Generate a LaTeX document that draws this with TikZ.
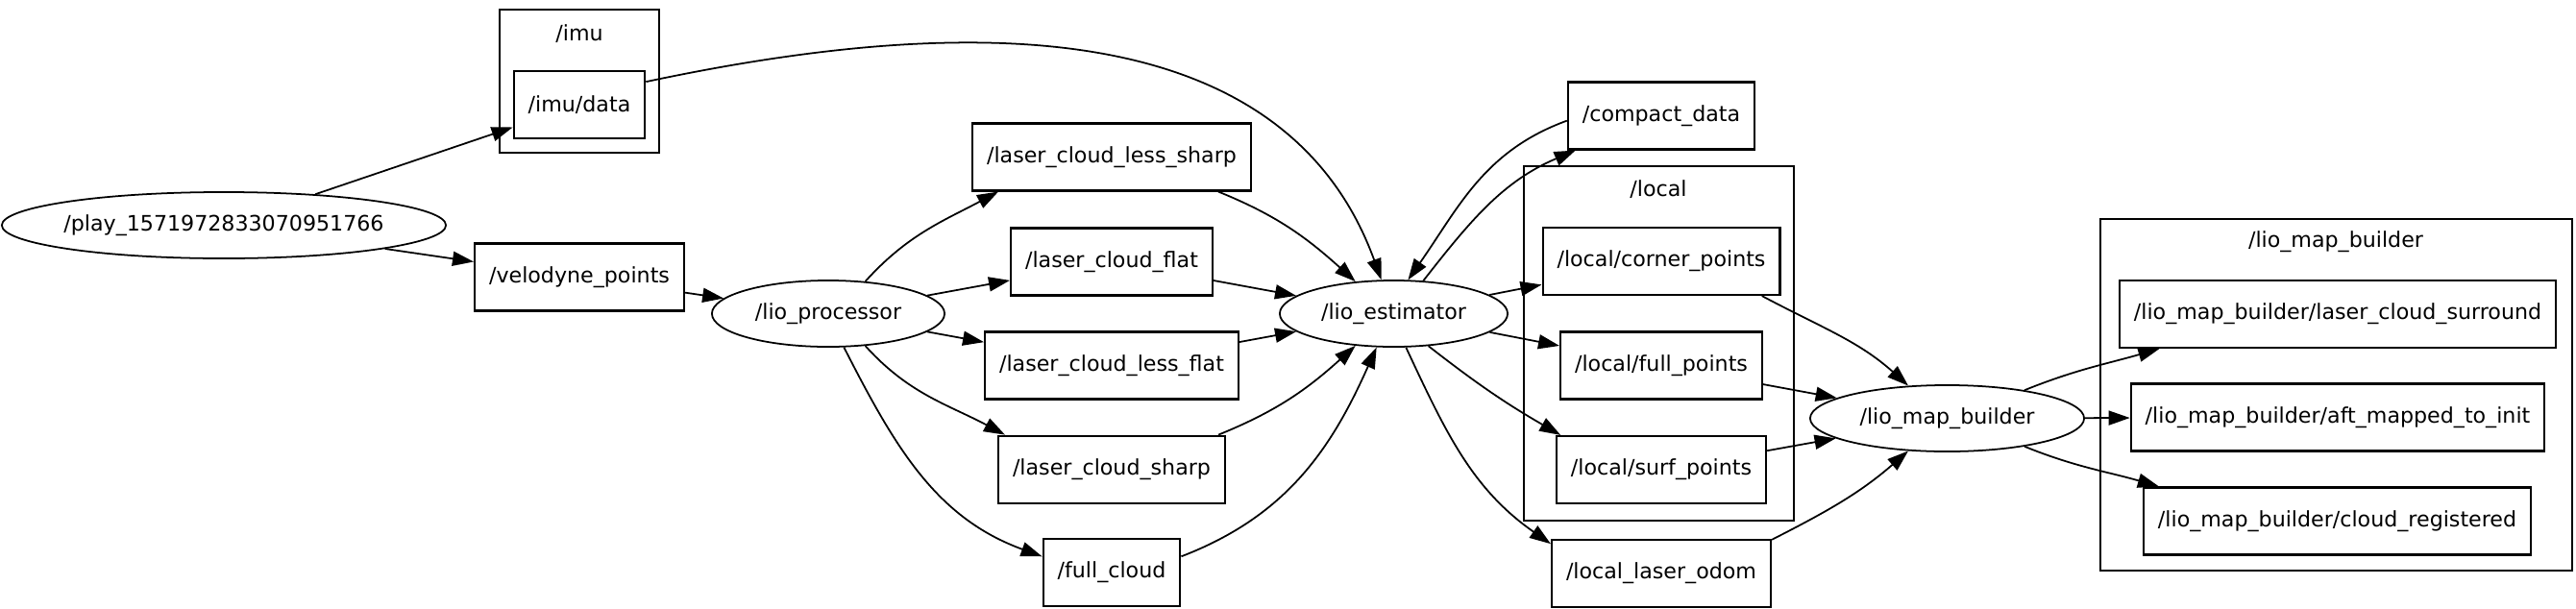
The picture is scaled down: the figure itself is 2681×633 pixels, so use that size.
\documentclass[tikz,border=0pt]{standalone}
\usepackage{fontspec}
\setmainfont{DejaVu Sans}
\usetikzlibrary{arrows.meta,shapes.geometric}

\begin{document}
\begin{tikzpicture}[x=0.01cm,y=0.01cm,
  >={Triangle[length=2.2mm,width=1.5mm]},
  every node/.style={font=\fontsize{6.3}{7.5}\selectfont},
  topic/.style={draw,line width=0.6pt,rectangle,minimum height=0.7cm,inner xsep=0.15cm},
  proc/.style={draw,line width=0.5pt,ellipse,minimum height=0.69cm,inner sep=0pt},
  group/.style={draw,line width=0.6pt},
  edge/.style={->,line width=0.5pt}]
\useasboundingbox (0,0) rectangle (2681,-633);

% namespaces
\draw[group] (520,-10) rectangle (686,-159);
\node (imulbl) at (603,-35) {/imu};
\draw[group] (1586,-173) rectangle (1867,-542);
\node (locallbl) at (1726,-197) {/local};
\draw[group] (2186,-228) rectangle (2677,-594);
\node (mblbl) at (2431,-252) {/lio\_map\_builder};

% nodes
\node[proc,minimum width=4.62cm] (play) at (233,-234.5) {\makebox[0pt]{/play\_1571972833070951766}};
\node[proc,minimum width=2.42cm] (proc) at (862,-326.5) {\makebox[0pt]{/lio\_processor}};
\node[proc,minimum width=2.37cm] (est) at (1450.5,-326.5) {\makebox[0pt]{/lio\_estimator}};
\node[proc,minimum width=2.85cm] (mb) at (2026.5,-435.5) {\makebox[0pt]{/lio\_map\_builder}};

% topics
\node[topic] (imudata) at (603,-109) {/imu/data};
\node[topic] (velo) at (603,-288.5) {/velodyne\_points};
\node[topic] (lesssharp) at (1157,-163.5) {/laser\_cloud\_less\_sharp};
\node[topic] (flat) at (1157,-272.5) {/laser\_cloud\_flat};
\node[topic] (lessflat) at (1157,-380.5) {/laser\_cloud\_less\_flat};
\node[topic] (sharp) at (1157,-488.7) {/laser\_cloud\_sharp};
\node[topic] (fullcloud) at (1157,-596) {/full\_cloud};
\node[topic] (compact) at (1729,-120.5) {/compact\_data};
\node[topic] (corner) at (1729,-272) {/local/corner\_points};
\node[topic] (fullpts) at (1729,-380.5) {/local/full\_points};
\node[topic] (surf) at (1729,-489) {/local/surf\_points};
\node[topic] (odom) at (1729,-597) {/local\_laser\_odom};
\node[topic] (surround) at (2433,-327) {/lio\_map\_builder/laser\_cloud\_surround};
\node[topic] (aft) at (2433,-434.5) {/lio\_map\_builder/aft\_mapped\_to\_init};
\node[topic] (cloudreg) at (2432.5,-542.5) {/lio\_map\_builder/cloud\_registered};

% connections
\draw[edge] (play) -- (imudata);
\draw[edge] (play) -- (velo);
\draw[edge] (velo) -- (proc);
\draw[edge] (imudata.19) to[out=12,in=110] (est.110);
\draw[edge] (proc.41) to[out=48,in=208] (lesssharp.197);
\draw[edge] (proc) -- (flat);
\draw[edge] (proc) -- (lessflat);
\draw[edge] (proc.-41) to[out=-48,in=152] (sharp.162);
\draw[edge] (proc.-65) to[out=-63,in=160] (fullcloud.167);
\draw[edge] (lesssharp.-18) to[out=-22,in=138] (est.140);
\draw[edge] (flat) -- (est);
\draw[edge] (lessflat) -- (est);
\draw[edge] (sharp.18) to[out=22,in=222] (est.220);
\draw[edge] (fullcloud.13) to[out=21,in=246] (est.243);
\draw[edge] (compact.183) to[out=200,in=55] (est.67);
\draw[edge] (est.48) to[out=52,in=203] (compact.202);
\draw[edge] (est) -- (corner);
\draw[edge] (est) -- (fullpts);
\draw[edge] (est.-43) to[out=-38,in=150] (surf.161);
\draw[edge] (est.-70) to[out=-65,in=145] (odom.165);
\draw[edge] (corner.-19) to[out=-28,in=138] (mb.140);
\draw[edge] (fullpts) -- (mb);
\draw[edge] (surf) -- (mb);
\draw[edge] (odom.17) to[out=27,in=221] (mb.220);
\draw[edge] (mb.20) to[out=22,in=196] (surround.191);
\draw[edge] (mb) -- (aft);
\draw[edge] (mb.-20) to[out=-22,in=164] (cloudreg.169);
\end{tikzpicture}
\end{document}
